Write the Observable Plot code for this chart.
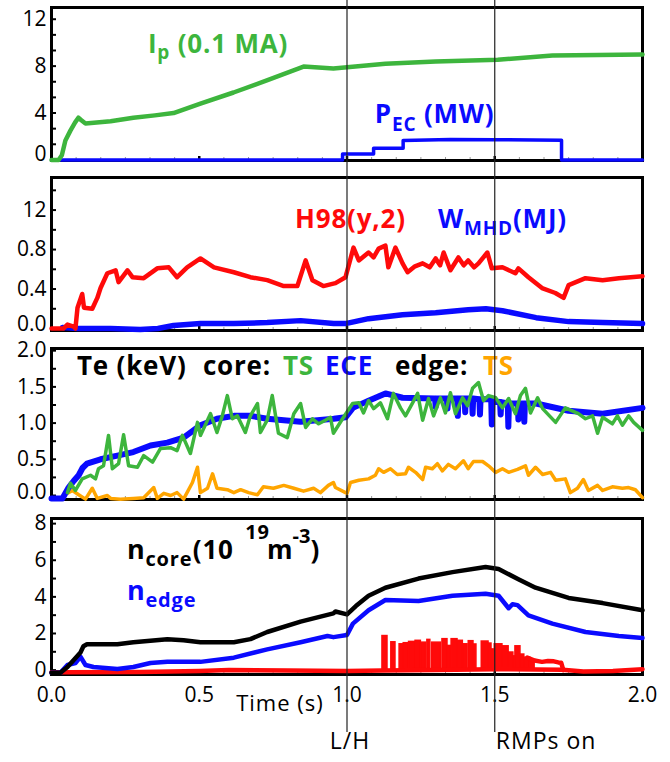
<!DOCTYPE html>
<html><head><meta charset="utf-8">
<script src="https://cdn.jsdelivr.net/npm/d3@7"></script>
<script src="https://cdn.jsdelivr.net/npm/@observablehq/plot@0.6"></script>
<style>
body{margin:0;background:#fff;}
#wrap{position:relative;width:670px;height:762px;}
#wrap svg{position:absolute;left:0;}
</style></head><body><div id="wrap"></div>
<script>
// ---------- data (time in s, value) ----------
const ip = [[0,0],[0.024,0],[0.035,0.4],[0.047,1.66],[0.064,2.5],[0.08,3.2],[0.091,3.6],[0.1,3.4],[0.115,3.1],[0.2,3.3],[0.277,3.6],[0.35,3.8],[0.413,4.0],[0.504,4.8],[0.616,5.75],[0.731,6.8],[0.853,7.96],[0.954,7.8],[1.13,8.2],[1.30,8.4],[1.51,8.55],[1.695,8.9],[2.0,9.0]];
const pec = [[0,0],[0.985,0],[0.985,0.5],[1.09,0.5],[1.09,1.0],[1.19,1.0],[1.19,1.66],[1.35,1.75],[1.5,1.72],[1.726,1.68],[1.726,0],[2.0,0]];
const h98 = [[0,0],[0.04,0],[0.054,0.04],[0.075,0.02],[0.081,0],[0.088,0.21],[0.104,0.35],[0.11,0.21],[0.138,0.20],[0.155,0.31],[0.166,0.41],[0.189,0.56],[0.217,0.59],[0.227,0.47],[0.257,0.59],[0.274,0.52],[0.312,0.51],[0.358,0.61],[0.397,0.62],[0.425,0.52],[0.459,0.62],[0.504,0.71],[0.55,0.62],[0.617,0.57],[0.673,0.52],[0.73,0.49],[0.786,0.43],[0.832,0.43],[0.86,0.69],[0.883,0.49],[0.92,0.43],[0.961,0.46],[0.995,0.52],[1.022,0.82],[1.04,0.69],[1.073,0.77],[1.09,0.72],[1.107,0.81],[1.13,0.84],[1.14,0.62],[1.164,0.82],[1.188,0.66],[1.205,0.57],[1.23,0.63],[1.256,0.66],[1.28,0.62],[1.30,0.71],[1.315,0.64],[1.327,0.77],[1.35,0.59],[1.377,0.72],[1.395,0.64],[1.41,0.69],[1.43,0.62],[1.445,0.66],[1.475,0.77],[1.49,0.61],[1.526,0.62],[1.57,0.56],[1.58,0.61],[1.614,0.52],[1.66,0.41],[1.705,0.36],[1.733,0.31],[1.75,0.44],[1.807,0.51],[1.865,0.49],[1.92,0.51],[2.0,0.53]];
const wmhd = [[0.037,0.01],[0.088,0.0],[0.2,0.0],[0.3,-0.01],[0.36,0.0],[0.413,0.03],[0.504,0.05],[0.617,0.05],[0.73,0.06],[0.843,0.08],[0.955,0.05],[0.995,0.05],[1.073,0.10],[1.188,0.14],[1.30,0.16],[1.41,0.19],[1.47,0.20],[1.526,0.18],[1.64,0.11],[1.75,0.07],[1.865,0.06],[2.0,0.05]];
const teECE = [[0,-0.04],[0.037,-0.04],[0.058,0.11],[0.075,0.2],[0.092,0.28],[0.105,0.38],[0.12,0.44],[0.166,0.50],[0.223,0.55],[0.277,0.6],[0.335,0.69],[0.392,0.73],[0.447,0.80],[0.504,0.97],[0.56,1.06],[0.617,1.10],[0.673,1.10],[0.73,1.06],[0.786,1.04],[0.843,1.02],[0.9,1.04],[0.955,1.06],[0.995,1.08],[1.02,1.21],[1.073,1.31],[1.13,1.41],[1.188,1.35],[1.298,1.34],[1.30,1.22],[1.302,1.34],[1.338,1.34],[1.34,1.20],[1.342,1.34],[1.373,1.34],[1.375,1.10],[1.377,1.34],[1.398,1.34],[1.40,1.15],[1.402,1.34],[1.423,1.34],[1.425,1.13],[1.427,1.34],[1.448,1.33],[1.45,1.12],[1.452,1.33],[1.488,1.33],[1.49,0.98],[1.492,1.30],[1.518,1.29],[1.52,1.12],[1.522,1.29],[1.544,1.27],[1.546,0.95],[1.548,1.27],[1.578,1.27],[1.58,1.05],[1.582,1.27],[1.598,1.27],[1.60,1.02],[1.602,1.27],[1.64,1.27],[1.75,1.17],[1.865,1.13],[2.0,1.21]];
const teTS = [[0.054,0.04],[0.064,0.17],[0.081,0.07],[0.104,0.23],[0.132,0.28],[0.149,0.23],[0.159,0.37],[0.176,0.41],[0.193,0.83],[0.206,0.37],[0.227,0.44],[0.244,0.84],[0.261,0.41],[0.291,0.39],[0.312,0.55],[0.342,0.46],[0.369,0.65],[0.403,0.66],[0.425,0.62],[0.443,0.83],[0.47,0.58],[0.494,1.01],[0.504,0.83],[0.538,1.13],[0.56,0.87],[0.578,1.10],[0.595,1.38],[0.612,1.06],[0.629,1.10],[0.656,0.87],[0.673,1.10],[0.697,1.27],[0.707,0.87],[0.73,1.04],[0.747,1.38],[0.768,0.86],[0.798,0.80],[0.82,1.13],[0.843,1.27],[0.86,0.94],[0.883,1.06],[0.904,0.99],[0.927,1.04],[0.944,1.08],[0.954,0.86],[0.985,1.06],[1.019,1.27],[1.04,1.28],[1.056,1.14],[1.073,1.31],[1.09,1.20],[1.113,1.28],[1.137,1.06],[1.157,1.41],[1.181,1.21],[1.198,1.10],[1.222,1.28],[1.239,1.41],[1.256,1.04],[1.276,1.34],[1.293,1.10],[1.316,1.35],[1.333,1.14],[1.35,1.42],[1.367,1.13],[1.391,1.35],[1.408,1.24],[1.425,1.48],[1.445,1.56],[1.462,1.31],[1.479,1.38],[1.503,1.35],[1.526,1.21],[1.547,1.34],[1.57,1.13],[1.587,1.38],[1.604,1.48],[1.621,1.14],[1.645,1.35],[1.662,1.20],[1.706,1.01],[1.739,1.21],[1.783,1.13],[1.807,1.06],[1.831,1.10],[1.848,0.86],[1.865,1.08],[1.898,0.99],[1.915,1.10],[1.932,0.97],[1.953,1.10],[1.97,1.01],[2.0,0.90]];
const teEdge = [[0.054,0.03],[0.071,0.07],[0.092,0.01],[0.115,-0.05],[0.138,0.10],[0.155,-0.04],[0.189,0.0],[0.2,-0.04],[0.233,-0.05],[0.277,-0.04],[0.312,-0.03],[0.346,0.11],[0.358,-0.04],[0.38,0.03],[0.403,0.0],[0.425,0.04],[0.447,-0.05],[0.477,0.18],[0.494,0.39],[0.504,0.04],[0.528,0.10],[0.545,0.30],[0.56,0.10],[0.595,0.08],[0.617,0.04],[0.64,0.08],[0.667,0.04],[0.697,0.01],[0.717,0.12],[0.751,0.10],[0.786,0.14],[0.82,0.10],[0.853,0.06],[0.887,0.10],[0.91,0.04],[0.937,0.14],[0.954,0.18],[0.961,0.11],[1.0,0.03],[1.012,0.18],[1.04,0.21],[1.073,0.23],[1.096,0.28],[1.107,0.37],[1.124,0.32],[1.147,0.37],[1.17,0.29],[1.198,0.30],[1.208,0.39],[1.232,0.32],[1.256,0.22],[1.266,0.39],[1.289,0.37],[1.306,0.44],[1.323,0.34],[1.343,0.43],[1.367,0.37],[1.394,0.48],[1.41,0.37],[1.428,0.47],[1.459,0.47],[1.479,0.41],[1.503,0.32],[1.526,0.37],[1.547,0.32],[1.577,0.36],[1.604,0.41],[1.614,0.28],[1.638,0.39],[1.662,0.29],[1.689,0.32],[1.706,0.21],[1.739,0.23],[1.756,0.04],[1.78,0.10],[1.80,0.22],[1.817,0.07],[1.848,0.14],[1.865,0.07],[1.898,0.12],[1.932,0.10],[1.953,0.11],[1.976,0.08],[2.0,-0.03]];
const nCore = [[0,-0.15],[0.03,-0.15],[0.054,0.17],[0.098,0.96],[0.108,1.3],[0.12,1.41],[0.223,1.41],[0.277,1.52],[0.392,1.69],[0.447,1.63],[0.504,1.52],[0.617,1.52],[0.673,1.69],[0.73,2.08],[0.843,2.65],[0.954,3.1],[0.961,3.2],[1.0,3.04],[1.03,3.5],[1.073,4.06],[1.13,4.5],[1.242,5.0],[1.357,5.35],[1.469,5.63],[1.513,5.52],[1.58,4.96],[1.638,4.5],[1.75,3.94],[1.865,3.66],[2.0,3.27]];
const nEdge = [[0,-0.15],[0.03,-0.15],[0.054,0.28],[0.081,0.39],[0.098,0.73],[0.115,0.28],[0.142,0.17],[0.223,0.06],[0.277,0.17],[0.335,0.39],[0.392,0.45],[0.504,0.45],[0.617,0.68],[0.73,1.13],[0.843,1.52],[0.934,1.86],[0.954,1.8],[1.0,1.92],[1.02,2.54],[1.073,3.27],[1.13,3.83],[1.242,3.77],[1.357,4.06],[1.469,4.17],[1.513,4.06],[1.547,3.38],[1.56,3.6],[1.577,3.55],[1.614,2.99],[1.695,2.54],[1.807,2.08],[1.92,1.86],[2.0,1.75]];
const nRedBase = [[0,-0.12],[0.05,-0.12],[0.3,-0.1],[0.5,-0.05],[0.6,0.0],[0.8,-0.02],[1.0,-0.05],[1.12,-0.02],[1.3,0.0],[1.5,0.05],[1.73,0.02],[1.8,-0.08],[1.9,-0.05],[2.0,0.05]];
const nRedEnv = [[1.61,0.68],[1.635,0.52],[1.66,0.45],[1.68,0.5],[1.70,0.48],[1.715,0.42],[1.725,0.4],[1.732,0.0]];
const nRedSpikes = [[1.120,1.137,1.86],[1.150,1.164,1.52],[1.178,1.192,1.41],[1.192,1.210,1.47],[1.210,1.232,1.54],[1.232,1.250,1.60],[1.250,1.268,1.50],[1.272,1.282,1.65],[1.288,1.318,1.50],[1.323,1.340,1.69],[1.340,1.352,1.32],[1.354,1.374,1.69],[1.374,1.392,1.60],[1.394,1.408,1.41],[1.412,1.428,1.58],[1.428,1.438,1.40],[1.456,1.479,1.56],[1.479,1.489,1.45],[1.489,1.500,1.13],[1.500,1.526,1.41],[1.526,1.547,1.30],[1.547,1.563,0.96],[1.563,1.570,0.75],[1.570,1.587,1.30],[1.587,1.600,0.85],[1.600,1.620,0.68],[1.620,1.635,0.56]];

// ---------- ticks / labels ----------
const xTicks = [0, 0.5, 1.0, 1.5, 2.0];
const xTickLabels = ["0.0", "0.5", "1.0", "1.5", "2.0"];
const xMinor = d3.range(0, 2.0001, 1/12);
const y1Ticks = [0, 4, 8, 12], y1Labels = ["0", "4", "8", "12"];
const y2Ticks = [0, 0.4, 0.8, 1.2], y2Labels = ["0.0", "0.4", "0.8", "12"];
const y3Ticks = [0, 0.5, 1.0, 1.5, 2.0], y3Labels = ["0.0", "0.5", "1.0", "1.5", "2.0"];
const y4Ticks = [0, 2, 4, 6, 8], y4Labels = ["0", "2", "4", "6", "8"];
const events = [{t: 1.0, label: "L/H"}, {t: 1.5, label: "RMPs on"}];

const FONT = "'Open Sans', 'DejaVu Sans', sans-serif";
const GREEN = "#3db53d", BLUE = "#0a0aff", RED = "#ff0a0a", ORANGE = "#ffa500";
const wrap = document.getElementById("wrap");

function fmt(ticks, labels) { return v => labels[ticks.findIndex(t => Math.abs(t - v) < 1e-9)] ?? ""; }

function panel({top, height, mt, mb, domain, ticks, labels, minor, marks, xlab, lift = 0}) {
  const f = fmt(ticks, labels);
  const p = Plot.plot({
    width: 670, height, marginLeft: 51, marginRight: 28, marginTop: mt, marginBottom: mb,
    x: {domain: [0, 2]},
    y: {domain},
    style: {fontFamily: FONT, background: "transparent", overflow: "visible", color: "black"},
    marks: [
      Plot.axisY(minor, {tickSize: 4, dx: 5, strokeWidth: 2, tickFormat: () => "", label: null}),
      Plot.axisX(xMinor, {tickSize: 2, dy: -3, stroke: "#999", tickFormat: () => "", label: null}),
      Plot.axisX([0.5, 1.0, 1.5], {tickSize: 3, dy: -4, strokeWidth: 2.5, tickFormat: () => "", label: null}),
      Plot.frame({stroke: "black", strokeWidth: 3}),
      Plot.axisY(ticks.slice(1), {tickSize: 0, tickPadding: 5, tickFormat: f, fontSize: 21, label: null}),
      Plot.axisY(ticks.slice(0, 1), {tickSize: 0, tickPadding: 5, tickFormat: f, fontSize: 21, label: null, dy: -lift}),
      ...(xlab ? [Plot.axisX(xTicks, {tickSize: 0, tickPadding: 13, tickFormat: fmt(xTicks, xTickLabels), fontSize: 21, label: null})] : []),
      ...marks
    ]
  });
  p.style.top = top + "px";
  wrap.appendChild(p);
  return p;
}

// rich label: parts = [{s, size, shift(+down)}]
function rich(p, t, v, color, parts, spacing = "0.8px") {
  const x = p.scale("x").apply(t), y = p.scale("y").apply(v);
  const txt = d3.select(p).append("text").attr("x", x).attr("y", y)
    .attr("text-anchor", "start").attr("letter-spacing", spacing)
    .attr("font-family", FONT).attr("font-weight", "bold").attr("fill", color);
  let cur = 0;
  for (const q of parts) {
    const sh = q.shift || 0;
    txt.append("tspan").text(q.s).attr("font-size", q.size || 26).attr("dy", sh - cur);
    cur = sh;
  }
}

const line = (data, stroke, w) => Plot.line(data, {x: d => d[0], y: d => d[1], stroke, strokeWidth: w, strokeLinejoin: "round"});

// Panel 1: Ip, PEC
const p1 = panel({top: 0, height: 170, mt: 7, mb: 10, domain: [-0.05, 13], ticks: y1Ticks, labels: y1Labels, lift: 6,
  minor: d3.range(0, 13, 4/3),
  marks: [line(pec, BLUE, 3.5), line(ip, GREEN, 4.5)]});
rich(p1, 0.328, 9.06, GREEN, [{s: "I"}, {s: "p", size: 19, shift: 6}, {s: " (0.1 MA)"}]);
rich(p1, 1.096, 3.1, BLUE, [{s: "P"}, {s: "EC", size: 19, shift: 8}, {s: " (MW)"}]);

// Panel 2: H98, WMHD
const p2 = panel({top: 170, height: 165, mt: 7, mb: 5, domain: [-0.02, 1.53], ticks: y2Ticks, labels: y2Labels, lift: 4,
  minor: d3.range(0, 1.53, 0.2),
  marks: [line(wmhd, BLUE, 5.5), line(h98, RED, 4.5)]});
rich(p2, 0.826, 1.01, RED, [{s: "H98(y,2)"}]);
rich(p2, 1.31, 1.01, BLUE, [{s: "W"}, {s: "MHD", size: 19, shift: 7}, {s: "(MJ)"}]);

// Panel 3: Te
const p3 = panel({top: 335, height: 170, mt: 13, mb: 6, domain: [-0.055, 2.03], ticks: y3Ticks, labels: y3Labels, lift: 3,
  minor: d3.range(0, 2.01, 0.25),
  marks: [line(teEdge, ORANGE, 3.5), line(teECE, BLUE, 6), line(teTS, GREEN, 3.5)]});
rich(p3, 0.088, 1.655, "black", [{s: "Te (keV)"}]);
rich(p3, 0.514, 1.655, "black", [{s: "core:"}]);
rich(p3, 0.785, 1.655, GREEN, [{s: "TS"}]);
rich(p3, 0.927, 1.655, BLUE, [{s: "ECE"}]);
rich(p3, 1.164, 1.655, "black", [{s: "edge:"}]);
rich(p3, 1.462, 1.655, ORANGE, [{s: "TS"}]);

// Panel 4: densities
const p4 = panel({top: 505, height: 257, mt: 13, mb: 88, domain: [-0.24, 8.28], ticks: y4Ticks, labels: y4Labels, xlab: true,
  minor: d3.range(0, 8.01, 1),
  marks: [
    Plot.rect(nRedSpikes, {x1: d => d[0], x2: d => d[1], y1: 0, y2: d => d[2], fill: RED, stroke: RED, strokeWidth: 1.5, inset: 0}),
    line(nRedBase, RED, 4.5), line(nRedEnv, RED, 4.5),
    line(nEdge, BLUE, 4.5), line(nCore, "black", 4.5)
  ]});
rich(p4, 0.257, 6.03, "black", [{s: "n", size: 27}, {s: "core", size: 20, shift: 7}]);
rich(p4, 0.48, 6.03, "black", [{s: "(10"}]);
rich(p4, 0.657, 7.15, "black", [{s: "19", size: 20}]);
rich(p4, 0.731, 6.03, "black", [{s: "m"}, {s: "-3", size: 20, shift: -16}, {s: ")", shift: 0}], "0px");
rich(p4, 0.257, 3.8, BLUE, [{s: "n", size: 27}, {s: "edge", size: 20, shift: 7}]);

// Overlay: event lines and bottom texts
const ov = Plot.plot({
  width: 670, height: 762, marginLeft: 51, marginRight: 28, marginTop: 0, marginBottom: 30,
  x: {domain: [0, 2], axis: null}, y: {domain: [0, 1], axis: null},
  style: {fontFamily: FONT, background: "transparent", overflow: "visible", color: "black", letterSpacing: "1px"},
  marks: [
    Plot.ruleX(events, {x: "t", stroke: "#222", strokeWidth: 1.2}),
    Plot.text(events.slice(0, 1), {x: "t", text: "label", frameAnchor: "bottom", dy: 16, dx: 3, fontSize: 23, textAnchor: "middle"}),
    Plot.text(events.slice(1), {x: "t", text: "label", frameAnchor: "bottom", dy: 16, dx: 1, fontSize: 23, textAnchor: "start"}),
    Plot.text(["Time (s)"], {x: 0.773, text: d => d, frameAnchor: "bottom", dy: -22, fontSize: 22})
  ]
});
ov.style.top = "0px";
ov.style.pointerEvents = "none";
wrap.appendChild(ov);
</script></body></html>
